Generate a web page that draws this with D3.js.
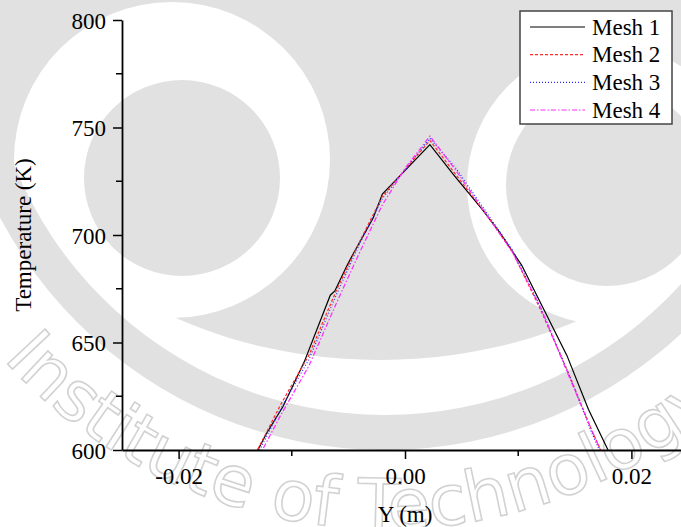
<!DOCTYPE html>
<html>
<head>
<meta charset="utf-8">
<script src="https://cdn.jsdelivr.net/npm/d3@7"></script>
<style>
  html, body { margin: 0; padding: 0; background: #fff; }
  svg { display: block; }
  .lbl { font-family: "Liberation Serif", "Times New Roman", serif; fill: #000; }
</style>
</head>
<body>
<svg id="chart" width="681" height="527"></svg>
<script>
// Temperature profiles across the channel for four mesh densities
const seriesNames = ["Mesh 1", "Mesh 2", "Mesh 3", "Mesh 4"];

const mesh1Y = [-0.0140, -0.0122, -0.0108, -0.0089, -0.0066, -0.0062, -0.0051, -0.0045, -0.0028, -0.0020, 0.0022, 0.0043, 0.0068, 0.0084, 0.0103, 0.0122, 0.0143, 0.0162, 0.0183];
const mesh1T = [590, 608, 620, 641, 672, 674, 686, 692, 708, 719, 742, 728, 712, 701, 686, 666, 644, 619, 596];

const mesh2Y = [-0.0140, -0.0110, -0.0085, -0.0060, -0.0040, -0.0020, 0.0022, 0.0045, 0.0070, 0.0095, 0.0120, 0.0145, 0.0165, 0.0180];
const mesh2T = [590, 621, 644, 675, 697, 718, 744, 728, 711, 692, 665, 635, 609, 592];

const mesh3Y = [-0.0138, -0.0110, -0.0085, -0.0060, -0.0040, -0.0020, 0.0022, 0.0045, 0.0070, 0.0095, 0.0120, 0.0145, 0.0165, 0.0180];
const mesh3T = [590, 619, 642, 673, 696, 717, 745, 731, 712, 693, 666, 635, 608, 590];

const mesh4Y = [-0.0138, -0.0110, -0.0085, -0.0060, -0.0040, -0.0020, 0.0000, 0.0022, 0.0045, 0.0070, 0.0095, 0.0120, 0.0145, 0.0166, 0.0180];
const mesh4T = [588, 616, 639, 669, 692, 714, 731, 746, 730, 711, 692, 666, 634, 608, 591];

const xMajorTicks = [-0.02, 0.00, 0.02];
const xMinorTicks = [-0.01, 0.01];
const yMajorTicks = [600, 650, 700, 750, 800];
const yMinorTicks = [625, 675, 725, 775];

const emblemText = "Institute of Technology";

const svg = d3.select("#chart");
const W = 681, H = 527;

// ---- faint background emblem ----
const bg = svg.append("g").attr("class", "emblem");
const grey = "#e1e1e1";
const ringC = [385, 15];
// central face
bg.append("ellipse").attr("cx", 380).attr("cy", 60).attr("rx", 400).attr("ry", 300).attr("fill", grey);
// eye sockets and pupils
bg.append("circle").attr("cx", 172).attr("cy", 160).attr("r", 158).attr("fill", "#fff");
bg.append("circle").attr("cx", 607).attr("cy", 185).attr("r", 140).attr("fill", "#fff");
bg.append("circle").attr("cx", 182).attr("cy", 178).attr("r", 98).attr("fill", grey);
bg.append("circle").attr("cx", 607).attr("cy", 185).attr("r", 101).attr("fill", grey);
// outer ring
const ringArc = d3.arc().innerRadius(400).outerRadius(435).startAngle(0).endAngle(2 * Math.PI);
bg.append("path").attr("transform", `translate(${ringC[0]},${ringC[1]})`)
  .attr("d", ringArc()).attr("fill", grey);
// lettering running round the outside of the ring (left, under, then up the right)
const rText = 514;
const deg = Math.PI / 180;
const a0 = 200 * deg, a1 = -30 * deg;
const p0 = [ringC[0] + rText * Math.cos(a0), ringC[1] + rText * Math.sin(a0)];
const p1 = [ringC[0] + rText * Math.cos(a1), ringC[1] + rText * Math.sin(a1)];
bg.append("path").attr("id", "emblemArc").attr("fill", "none")
  .attr("d", `M${p0[0]},${p0[1]} A${rText},${rText} 0 1 0 ${p1[0]},${p1[1]}`);
bg.append("text")
  .attr("font-family", "DejaVu Sans, sans-serif").attr("font-size", 70)
  .attr("fill", "#fff").attr("stroke", "#d2d2d2").attr("stroke-width", 1.6)
  .append("textPath").attr("href", "#emblemArc").attr("startOffset", (200 - 138) * deg * rText)
  .text(emblemText);

// ---- scales ----
const x = d3.scaleLinear().domain([-0.025, 0.025]).range([122, 688]);
const y = d3.scaleLinear().domain([600, 800]).range([450, 20]);

// clip lines to the plotting area
svg.append("clipPath").attr("id", "plotClip")
  .append("rect").attr("x", 122).attr("y", 20).attr("width", W - 122).attr("height", 430);

const series = [
  { name: seriesNames[0], ys: mesh1Y, ts: mesh1T, color: "#000000", dash: null, width: 1.2 },
  { name: seriesNames[1], ys: mesh2Y, ts: mesh2T, color: "#ff2a2a", dash: "3,2", width: 1.2 },
  { name: seriesNames[2], ys: mesh3Y, ts: mesh3T, color: "#2a2aff", dash: "1,2", width: 1.2 },
  { name: seriesNames[3], ys: mesh4Y, ts: mesh4T, color: "#ff2aff", dash: "5,2,1.5,2", width: 1.2 }
];

const line = d3.line().x(d => x(d[0])).y(d => y(d[1]));
const plot = svg.append("g").attr("clip-path", "url(#plotClip)");
series.forEach(s => {
  const pts = s.ys.map((v, i) => [v, s.ts[i]]);
  plot.append("path").datum(pts)
    .attr("d", line)
    .attr("fill", "none")
    .attr("stroke", s.color)
    .attr("stroke-width", s.width)
    .attr("stroke-dasharray", s.dash);
});

// ---- axes ----
const xAxis = svg.append("g").attr("transform", "translate(0,450)");
xAxis.call(d3.axisBottom(x).tickValues(xMajorTicks).tickSize(9).tickSizeOuter(0)
  .tickFormat(d => d3.format(".2f")(d).replace("−", "-")));
xAxis.append("g").selectAll("line").data(xMinorTicks).join("line")
  .attr("x1", d => x(d)).attr("x2", d => x(d)).attr("y1", 0).attr("y2", 6)
  .attr("stroke", "#000").attr("stroke-width", 1.5);

const yAxis = svg.append("g").attr("transform", "translate(122,0)");
yAxis.call(d3.axisLeft(y).tickValues(yMajorTicks).tickSize(9).tickSizeOuter(0)
  .tickFormat(d3.format("d")));
yAxis.append("g").selectAll("line").data(yMinorTicks).join("line")
  .attr("y1", d => y(d)).attr("y2", d => y(d)).attr("x1", 0).attr("x2", -6)
  .attr("stroke", "#000").attr("stroke-width", 1.5);

[xAxis, yAxis].forEach(a => {
  a.attr("font-family", null).attr("font-size", null);
  a.select(".domain").attr("stroke", "#000").attr("stroke-width", 1.8);
  a.selectAll(".tick line").attr("stroke", "#000").attr("stroke-width", 1.5);
  a.selectAll(".tick text").attr("class", "lbl").attr("font-size", 23);
});
xAxis.selectAll(".tick text").attr("dy", null).attr("y", 34);
yAxis.selectAll(".tick text").attr("x", -16).attr("dy", "0.35em");

// axis titles
svg.append("text").attr("class", "lbl").attr("x", 405).attr("y", 522).attr("text-anchor", "middle")
  .attr("font-size", 23).text("Y (m)");
svg.append("text").attr("class", "lbl").attr("transform", "translate(31,235) rotate(-90)")
  .attr("text-anchor", "middle").attr("font-size", 23).text("Temperature (K)");

// ---- legend ----
const lg = svg.append("g");
lg.append("rect").attr("x", 520).attr("y", 11).attr("width", 152).attr("height", 113)
  .attr("fill", "#fff").attr("stroke", "#444").attr("stroke-width", 1.5);
const rowY = d3.scalePoint().domain(seriesNames).range([27, 110]);
series.forEach(s => {
  const yy = rowY(s.name);
  lg.append("line").attr("x1", 530).attr("x2", 585).attr("y1", yy).attr("y2", yy)
    .attr("stroke", s.color).attr("stroke-width", s.width).attr("stroke-dasharray", s.dash);
  lg.append("text").attr("class", "lbl").attr("x", 592).attr("y", yy).attr("dy", "0.33em")
    .attr("font-size", 23).text(s.name);
});
</script>
</body>
</html>
